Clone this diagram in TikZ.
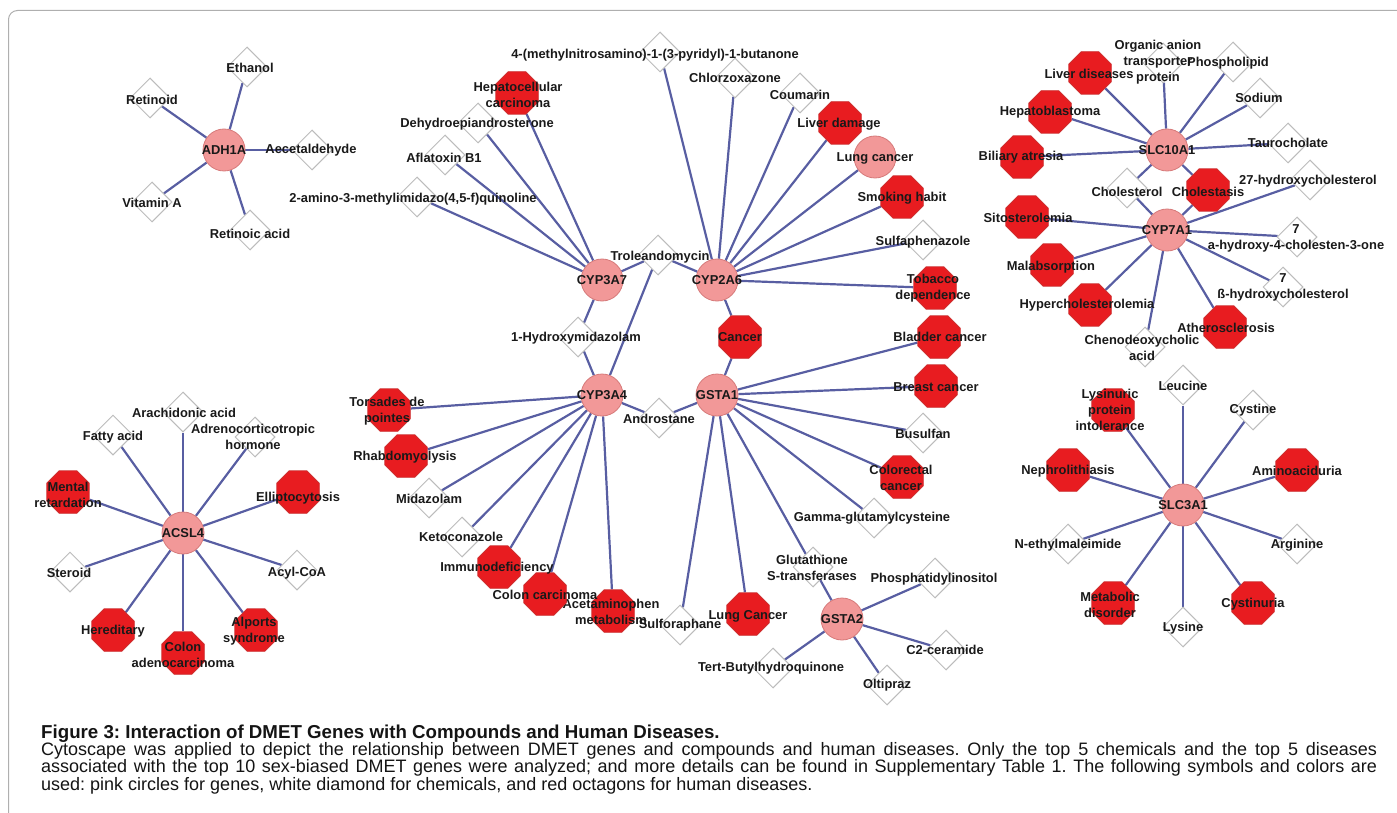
\documentclass[tikz,border=0pt]{standalone}
\usepackage{fontspec}
\setmainfont{Liberation Sans}
\usetikzlibrary{shapes.geometric,backgrounds}
\definecolor{genepink}{RGB}{242,152,152}
\definecolor{geneline}{RGB}{214,122,122}
\definecolor{disred}{RGB}{232,28,32}
\definecolor{disline}{RGB}{205,48,48}
\definecolor{edgeblue}{RGB}{88,94,162}
\definecolor{chemline}{RGB}{188,188,188}
\definecolor{framegray}{RGB}{175,175,175}
\newcommand{\capfont}{\fontsize{18}{17.3}\selectfont\frenchspacing\lineskiplimit=-50pt\relax}
\begin{document}
\begin{tikzpicture}[x=1pt, y=-1pt,
    gene/.style={circle, draw=geneline, fill=genepink, line width=0.8pt, minimum size=42pt, inner sep=0pt},
    dis/.style={regular polygon, regular polygon sides=8, draw=disline, fill=disred, line width=0.8pt, minimum size=46pt, inner sep=0pt},
    chem/.style={diamond, draw=chemline, fill=white, line width=1pt, minimum size=40pt, inner sep=0pt},
    lbl/.style={font=\bfseries\fontsize{12.9}{16}\selectfont, text=black!90, inner sep=0pt, align=center},
    every label/.style={lbl},
    link/.style={draw=edgeblue, line width=2.2pt}]
    \useasboundingbox (0,0) rectangle (1397,813);
    \node [gene, label=center:ADH1A] (adh1a) at (224,150) {};
    \node [gene, label=center:CYP3A7] (cyp3a7) at (602,280) {};
    \node [gene, label=center:CYP2A6] (cyp2a6) at (717,280) {};
    \node [gene, label=center:CYP3A4] (cyp3a4) at (602,395) {};
    \node [gene, label=center:GSTA1] (gsta1) at (717,395) {};
    \node [gene, label=center:GSTA2] (gsta2) at (842,619) {};
    \node [gene, label=center:SLC10A1] (slc10a1) at (1167,150) {};
    \node [gene, label=center:CYP7A1] (cyp7a1) at (1167,230) {};
    \node [gene, label=center:ACSL4] (acsl4) at (183,533) {};
    \node [gene, label=center:SLC3A1] (slc3a1) at (1183,505) {};
    \node [gene, label={[yshift=-1pt]center:Lung cancer}] (lungcancer) at (875,157) {};
    \node [chem, label={[xshift=3pt, yshift=-1pt]center:Ethanol}] (ethanol) at (247,67) {};
    \node [chem, label={[xshift=2pt, yshift=-2pt]center:Retinoid}] (retinoid) at (150,98) {};
    \node [chem, label={[xshift=-1pt]center:Aecetaldehyde}] (aecetaldehyde) at (312,150) {};
    \node [chem, label={[yshift=-1pt]center:Vitamin A}] (vitamina) at (152,202) {};
    \node [chem, label={[yshift=-4pt]center:Retinoic acid}] (retinoicacid) at (250,230) {};
    \node [chem, label={[xshift=-5pt, yshift=-3pt]center:4-(methylnitrosamino)-1-(3-pyridyl)-1-butanone}] (nnk) at (660,52) {};
    \node [chem, label=center:Chlorzoxazone] (chlorzoxazone) at (735,78) {};
    \node [chem, label={[yshift=-2pt]center:Coumarin}] (coumarin) at (800,93) {};
    \node [chem, label={[yshift=-2pt]center:Sulfaphenazole}] (sulfaphenazole) at (923,240) {};
    \node [chem, label={[xshift=-1pt, yshift=-1pt]center:Dehydroepiandrosterone}] (dhea) at (478,123) {};
    \node [chem, label={[xshift=-1pt, yshift=-3pt]center:Aflatoxin B1}] (aflatoxin) at (445,155) {};
    \node [chem, label={[xshift=-4pt, yshift=-2pt]center:2-amino-3-methylimidazo(4,5-f)quinoline}] (aminoquinoline) at (417,197) {};
    \node [chem, label={[xshift=2pt, yshift=-2pt]center:Troleandomycin}] (troleandomycin) at (658,255) {};
    \node [chem, label={[xshift=-2pt, yshift=-1pt]center:1-Hydroxymidazolam}] (hydroxymidazolam) at (578,337) {};
    \node [chem, label={[yshift=-1pt]center:Androstane}] (androstane) at (659,418) {};
    \node [chem, label={[yshift=-1pt]center:Midazolam}] (midazolam) at (429,498) {};
    \node [chem, label={[xshift=-1pt]center:Ketoconazole}] (ketoconazole) at (462,537) {};
    \node [chem, label=center:Sulforaphane] (sulforaphane) at (680,625) {};
    \node [chem, label={[xshift=-1pt, yshift=-1pt]center:{Glutathione\\S-transferases}}] (glutathione) at (813,567) {};
    \node [chem, label={[xshift=-1pt, yshift=-1pt]center:Phosphatidylinositol}] (phosphatidylinositol) at (935,578) {};
    \node [chem, label={[xshift=-1pt]center:C2-ceramide}] (c2ceramide) at (946,650) {};
    \node [chem, label=center:Oltipraz] (oltipraz) at (887,685) {};
    \node [chem, label={[xshift=-2pt]center:Tert-Butylhydroquinone}] (tbhq) at (773,668) {};
    \node [chem, label={[yshift=-1pt]center:Busulfan}] (busulfan) at (923,433) {};
    \node [chem, label={[xshift=-2pt]center:Gamma-glutamylcysteine}] (gamma) at (874,518) {};
    \node [chem, label={[xshift=-5pt, yshift=1pt]center:{Organic anion\\transporter\\protein}}] (oatp) at (1163,63) {};
    \node [chem, label={[xshift=-5pt, yshift=-1pt]center:Phospholipid}] (phospholipid) at (1233,62) {};
    \node [chem, label={[xshift=-1pt]center:Sodium}] (sodium) at (1260,98) {};
    \node [chem, label=center:Taurocholate] (taurocholate) at (1288,143) {};
    \node [chem, label={[yshift=-4pt]center:Cholesterol}] (cholesterol) at (1127,188) {};
    \node [chem, label={[xshift=-2pt, yshift=-1pt]center:27-hydroxycholesterol}] (oh27) at (1310,180) {};
    \node [chem, label={[xshift=-1pt, yshift=-1pt]center:{7\\a-hydroxy-4-cholesten-3-one}}] (oh7a) at (1297,237) {};
    \node [chem, label=center:{7\\ß-hydroxycholesterol}] (oh7b) at (1283,287) {};
    \node [chem, label={[xshift=-3pt, yshift=-1pt]center:{Chenodeoxycholic\\acid}}] (cheno) at (1145,347) {};
    \node [chem, label={[xshift=1pt, yshift=-1pt]center:Arachidonic acid}] (arachidonic) at (183,412) {};
    \node [chem, label={[yshift=-2pt]center:Fatty acid}] (fattyacid) at (113,435) {};
    \node [chem, label={[xshift=-2pt]center:{Adrenocorticotropic\\hormone}}] (acth) at (255,437) {};
    \node [chem, label={[xshift=-1pt, yshift=-1pt]center:Steroid}] (steroid) at (70,572) {};
    \node [chem, label={[yshift=-3pt]center:Acyl-CoA}] (acylcoa) at (297,570) {};
    \node [chem, label={[yshift=-1pt]center:Leucine}] (leucine) at (1183,385) {};
    \node [chem, label=center:Cystine] (cystine) at (1253,410) {};
    \node [chem, label={[yshift=-1pt]center:N-ethylmaleimide}] (nem) at (1068,544) {};
    \node [chem, label={[yshift=-1pt]center:Arginine}] (arginine) at (1297,544) {};
    \node [chem, label={[yshift=-1pt]center:Lysine}] (lysine) at (1183,627) {};
    \node [dis, label={[xshift=1pt, yshift=-2pt]center:{Hepatocellular\\carcinoma}}] (hepcc) at (517,93) {};
    \node [dis, label={[xshift=-1pt, yshift=-1pt]center:Liver damage}] (liverdamage) at (840,123) {};
    \node [dis, label={[yshift=-1pt]center:Smoking habit}] (smoking) at (902,197) {};
    \node [dis, label={[xshift=-2pt]center:{Tobacco\\dependence}}] (tobacco) at (935,288) {};
    \node [dis, label=center:Cancer] (cancer) at (740,337) {};
    \node [dis, label={[xshift=-2pt, yshift=-1pt]center:{Torsades de\\pointes}}] (torsades) at (389,410) {};
    \node [dis, label={[xshift=-1pt, yshift=-1pt]center:Rhabdomyolysis}] (rhabdo) at (406,456) {};
    \node [dis, label={[xshift=-2pt, yshift=-1pt]center:{Acetaminophen\\metabolism}}] (acetaminophen) at (613,611) {};
    \node [dis, label={[yshift=-1pt]center:Colon carcinoma}] (coloncarcinoma) at (545,594) {};
    \node [dis, label={[xshift=-2pt, yshift=-1pt]center:Immunodeficiency}] (immuno) at (499,567) {};
    \node [dis, label={[yshift=-2pt]center:Lung Cancer}] (lungcancertwo) at (748,614) {};
    \node [dis, label={[xshift=1pt]center:Bladder cancer}] (bladder) at (939,337) {};
    \node [dis, label={[yshift=-1pt]center:Breast cancer}] (breast) at (936,386) {};
    \node [dis, label={[xshift=-1pt, yshift=-1pt]center:{Colorectal\\cancer}}] (colorectal) at (902,477) {};
    \node [dis, label={[xshift=-1pt, yshift=-1pt]center:Liver diseases}] (liverdiseases) at (1090,73) {};
    \node [dis, label=center:Hepatoblastoma] (hepatoblastoma) at (1050,112) {};
    \node [dis, label={[xshift=-1pt]center:Biliary atresia}] (biliary) at (1022,157) {};
    \node [dis, label={[yshift=-2pt]center:Cholestasis}] (cholestasis) at (1208,190) {};
    \node [dis, label={[xshift=1pt, yshift=-1pt]center:Sitosterolemia}] (sitosterolemia) at (1027,217) {};
    \node [dis, label={[xshift=-1pt, yshift=-2pt]center:Malabsorption}] (malabsorption) at (1052,265) {};
    \node [dis, label={[xshift=-3pt]center:Hypercholesterolemia}] (hyperchol) at (1090,305) {};
    \node [dis, label={[xshift=1pt, yshift=-1pt]center:Atherosclerosis}] (atherosclerosis) at (1225,327) {};
    \node [dis, label={[yshift=-3pt]center:{Mental\\retardation}}] (mental) at (68,492) {};
    \node [dis, label={[yshift=-6pt]center:Elliptocytosis}] (elliptocytosis) at (298,492) {};
    \node [dis, label={[yshift=-1pt]center:Hereditary}] (hereditary) at (113,630) {};
    \node [dis, label={[yshift=-2pt]center:{Colon\\adenocarcinoma}}] (colonadeno) at (183,653) {};
    \node [dis, label={[xshift=-2pt, yshift=-1pt]center:{Alports\\syndrome}}] (alports) at (256,630) {};
    \node [dis, label={[xshift=-3pt]center:{Lysinuric\\protein\\intolerance}}] (lysinuric) at (1113,410) {};
    \node [dis, label={[yshift=-1pt]center:Nephrolithiasis}] (nephro) at (1068,470) {};
    \node [dis, label={[yshift=-1pt]center:Aminoaciduria}] (aminoaciduria) at (1297,470) {};
    \node [dis, label={[xshift=-3pt, yshift=-2pt]center:{Metabolic\\disorder}}] (metabolic) at (1113,603) {};
    \node [dis, label={[yshift=-1pt]center:Cystinuria}] (cystinuria) at (1253,603) {};
    \node [anchor=north west, inner sep=0pt, align=left, text=black!92, font=\capfont] (caption) at (41,724.5)
        {{\bfseries\fontsize{18.7}{17.3}\selectfont Figure 3: Interaction of DMET Genes with Compounds and Human Diseases.}\\
        \makebox[1336pt][s]{Cytoscape was applied to depict the relationship between DMET genes and compounds and human diseases. Only the top 5 chemicals and the top 5 diseases}\\
        \makebox[1336pt][s]{associated with the top 10 sex-biased DMET genes were analyzed; and more details can be found in Supplementary Table 1. The following symbols and colors are}\\
        used: pink circles for genes, white diamond for chemicals, and red octagons for human diseases.};
    \begin{pgfonlayer}{background}
        \draw [framegray, line width=1pt, rounded corners=9pt] (8.5,813) -- (8.5,10.5) -- (1397,10.5);
        \draw [link] (adh1a) -- (ethanol);
        \draw [link] (adh1a) -- (retinoid);
        \draw [link] (adh1a) -- (aecetaldehyde);
        \draw [link] (adh1a) -- (vitamina);
        \draw [link] (adh1a) -- (retinoicacid);
        \draw [link] (cyp3a7) -- (hepcc);
        \draw [link] (cyp3a7) -- (dhea);
        \draw [link] (cyp3a7) -- (aflatoxin);
        \draw [link] (cyp3a7) -- (aminoquinoline);
        \draw [link] (cyp3a7) -- (troleandomycin);
        \draw [link] (cyp3a7) -- (hydroxymidazolam);
        \draw [link] (cyp2a6) -- (nnk);
        \draw [link] (cyp2a6) -- (chlorzoxazone);
        \draw [link] (cyp2a6) -- (coumarin);
        \draw [link] (cyp2a6) -- (liverdamage);
        \draw [link] (cyp2a6) -- (lungcancer);
        \draw [link] (cyp2a6) -- (smoking);
        \draw [link] (cyp2a6) -- (sulfaphenazole);
        \draw [link] (cyp2a6) -- (tobacco);
        \draw [link] (cyp2a6) -- (troleandomycin);
        \draw [link] (cyp2a6) -- (cancer);
        \draw [link] (cyp3a4) -- (hydroxymidazolam);
        \draw [link] (cyp3a4) -- (troleandomycin);
        \draw [link] (cyp3a4) -- (androstane);
        \draw [link] (cyp3a4) -- (torsades);
        \draw [link] (cyp3a4) -- (rhabdo);
        \draw [link] (cyp3a4) -- (midazolam);
        \draw [link] (cyp3a4) -- (ketoconazole);
        \draw [link] (cyp3a4) -- (immuno);
        \draw [link] (cyp3a4) -- (coloncarcinoma);
        \draw [link] (cyp3a4) -- (acetaminophen);
        \draw [link] (gsta1) -- (cancer);
        \draw [link] (gsta1) -- (androstane);
        \draw [link] (gsta1) -- (bladder);
        \draw [link] (gsta1) -- (breast);
        \draw [link] (gsta1) -- (busulfan);
        \draw [link] (gsta1) -- (colorectal);
        \draw [link] (gsta1) -- (gamma);
        \draw [link] (gsta1) -- (glutathione);
        \draw [link] (gsta1) -- (lungcancertwo);
        \draw [link] (gsta1) -- (sulforaphane);
        \draw [link] (gsta2) -- (glutathione);
        \draw [link] (gsta2) -- (phosphatidylinositol);
        \draw [link] (gsta2) -- (c2ceramide);
        \draw [link] (gsta2) -- (oltipraz);
        \draw [link] (gsta2) -- (tbhq);
        \draw [link] (slc10a1) -- (liverdiseases);
        \draw [link] (slc10a1) -- (oatp);
        \draw [link] (slc10a1) -- (phospholipid);
        \draw [link] (slc10a1) -- (sodium);
        \draw [link] (slc10a1) -- (taurocholate);
        \draw [link] (slc10a1) -- (hepatoblastoma);
        \draw [link] (slc10a1) -- (biliary);
        \draw [link] (slc10a1) -- (cholesterol);
        \draw [link] (slc10a1) -- (cholestasis);
        \draw [link] (cyp7a1) -- (cholesterol);
        \draw [link] (cyp7a1) -- (cholestasis);
        \draw [link] (cyp7a1) -- (oh27);
        \draw [link] (cyp7a1) -- (oh7a);
        \draw [link] (cyp7a1) -- (oh7b);
        \draw [link] (cyp7a1) -- (atherosclerosis);
        \draw [link] (cyp7a1) -- (cheno);
        \draw [link] (cyp7a1) -- (hyperchol);
        \draw [link] (cyp7a1) -- (malabsorption);
        \draw [link] (cyp7a1) -- (sitosterolemia);
        \draw [link] (acsl4) -- (arachidonic);
        \draw [link] (acsl4) -- (fattyacid);
        \draw [link] (acsl4) -- (acth);
        \draw [link] (acsl4) -- (mental);
        \draw [link] (acsl4) -- (elliptocytosis);
        \draw [link] (acsl4) -- (steroid);
        \draw [link] (acsl4) -- (acylcoa);
        \draw [link] (acsl4) -- (hereditary);
        \draw [link] (acsl4) -- (colonadeno);
        \draw [link] (acsl4) -- (alports);
        \draw [link] (slc3a1) -- (leucine);
        \draw [link] (slc3a1) -- (cystine);
        \draw [link] (slc3a1) -- (lysinuric);
        \draw [link] (slc3a1) -- (nephro);
        \draw [link] (slc3a1) -- (aminoaciduria);
        \draw [link] (slc3a1) -- (nem);
        \draw [link] (slc3a1) -- (arginine);
        \draw [link] (slc3a1) -- (metabolic);
        \draw [link] (slc3a1) -- (lysine);
        \draw [link] (slc3a1) -- (cystinuria);
    \end{pgfonlayer}
\end{tikzpicture}
\end{document}
